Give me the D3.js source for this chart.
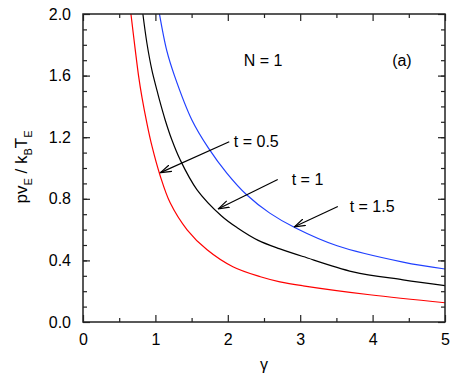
<!DOCTYPE html>
<html>
<head>
<meta charset="utf-8">
<script src="https://cdn.jsdelivr.net/npm/d3@7"></script>
<style>
body { margin: 0; background: #fff; }
text { font-family: "Liberation Sans", Arial, sans-serif; fill: #000; }
</style>
</head>
<body>
<script>
// curves: gamma vs p v_E / k_B T_E
var gammaRed = [0.662, 0.721, 0.767, 0.814, 0.883, 0.951, 1.066, 1.204, 1.438, 1.714, 2.07, 2.45, 2.72, 3.04, 3.96, 5.0],
    valRed   = [2.0, 1.77, 1.60, 1.46, 1.29, 1.145, 0.95, 0.774, 0.599, 0.469, 0.359, 0.294, 0.261, 0.235, 0.177, 0.125];
var gammaBlack = [0.827, 0.883, 0.951, 1.020, 1.056, 1.135, 1.227, 1.342, 1.573, 1.91, 2.13, 2.42, 2.72, 3.04, 3.73, 4.42, 5.0],
    valBlack   = [2.0, 1.81, 1.637, 1.507, 1.442, 1.312, 1.183, 1.053, 0.86, 0.69, 0.612, 0.53, 0.475, 0.425, 0.326, 0.274, 0.236];
var gammaBlue = [1.056, 1.158, 1.263, 1.504, 1.733, 1.986, 2.26, 2.58, 2.93, 3.51, 4.42, 5.0],
    valBlue   = [2.0, 1.76, 1.60, 1.312, 1.129, 0.967, 0.826, 0.707, 0.612, 0.495, 0.389, 0.344];
var xTicks = [0, 1, 2, 3, 4, 5],
    yTicks = [0.0, 0.4, 0.8, 1.2, 1.6, 2.0];
var labels = ["t = 0.5", "t = 1", "t = 1.5"];

var width = 457, height = 384, margin, x, y, svg, g, line, w, h;
margin = {left: 83, right: 12, top: 14, bottom: 62};
w = width - margin.left - margin.right;
h = height - margin.top - margin.bottom;

x = d3.scaleLinear().domain([0, 5]).range([0, w]);
y = d3.scaleLinear().domain([0, 2]).range([h, 0]);

svg = d3.select("body").append("svg").attr("width", width).attr("height", height);
svg.append("defs").append("clipPath").attr("id", "clip")
  .append("rect").attr("width", w).attr("height", h);
svg.select("defs").append("marker").attr("id", "arr")
  .attr("viewBox", "0 0 12 8").attr("refX", 11).attr("refY", 4)
  .attr("markerWidth", 12).attr("markerHeight", 8).attr("markerUnits", "userSpaceOnUse")
  .attr("orient", "auto")
  .append("path").attr("d", "M0,0.5 L11,4 L0,7.5").attr("fill", "none").attr("stroke", "#000").attr("stroke-width", 1.2);

g = svg.append("g").attr("transform", "translate(" + margin.left + "," + margin.top + ")");

line = d3.line().x(function (d) { return x(d[0]); }).y(function (d) { return y(d[1]); }).curve(d3.curveCatmullRom.alpha(0.5));

[[gammaRed, valRed, "#ff0000"], [gammaBlack, valBlack, "#000000"], [gammaBlue, valBlue, "#2040ff"]].forEach(function (s) {
  g.append("path").attr("clip-path", "url(#clip)")
    .attr("d", line(d3.zip(s[0], s[1])))
    .attr("fill", "none").attr("stroke", s[2]).attr("stroke-width", 1.2);
});

// axes with inward ticks on all sides
function minor(ax) { return ax.tickSizeInner(-4).tickSizeOuter(0).tickFormat(""); }
g.append("g").attr("transform", "translate(0," + h + ")").call(minor(d3.axisBottom(x).tickValues(d3.range(0.5, 5, 1))));
g.append("g").call(minor(d3.axisTop(x).tickValues(d3.range(0.5, 5, 1))));
g.append("g").call(minor(d3.axisLeft(y).tickValues(d3.range(0.1, 2, 0.1))));
g.append("g").attr("transform", "translate(" + w + ",0)").call(minor(d3.axisRight(y).tickValues(d3.range(0.1, 2, 0.1))));

g.append("g").attr("transform", "translate(0," + h + ")")
  .call(d3.axisBottom(x).tickValues(xTicks).tickSizeInner(-7).tickSizeOuter(0).tickPadding(12).tickFormat(d3.format("d")));
g.append("g")
  .call(d3.axisLeft(y).tickValues(yTicks).tickSizeInner(-7).tickSizeOuter(0).tickPadding(12).tickFormat(d3.format(".1f")));
g.append("g").call(d3.axisTop(x).tickValues(xTicks).tickSizeInner(-7).tickSizeOuter(0).tickFormat(""));
g.append("g").attr("transform", "translate(" + w + ",0)").call(d3.axisRight(y).tickValues(yTicks).tickSizeInner(-7).tickSizeOuter(0).tickFormat(""));
g.selectAll(".domain").remove();
g.selectAll(".tick line").attr("stroke", "#222").attr("stroke-width", 1.2);
g.selectAll(".tick text").attr("font-size", 16).attr("font-family", "Liberation Sans, Arial, sans-serif").attr("fill", "#000");
g.append("rect").attr("width", w).attr("height", h).attr("fill", "none").attr("stroke", "#222").attr("stroke-width", 1.5);

// annotations
g.append("text").attr("x", x(2.22)).attr("y", y(1.66)).attr("font-size", 16).text("N = 1");
g.append("text").attr("x", x(4.27)).attr("y", y(1.66)).attr("font-size", 16).text("(a)");

var ann = [[2.02, 1.17, 1.07, 0.97], [2.69, 0.925, 1.87, 0.735], [3.52, 0.75, 2.92, 0.618]];
var labelPos = [[2.0, 1.17], [2.8, 0.925], [3.6, 0.75]];
ann.forEach(function (a, i) {
  g.append("line").attr("x1", x(a[0])).attr("y1", y(a[1])).attr("x2", x(a[2])).attr("y2", y(a[3]))
    .attr("stroke", "#000").attr("stroke-width", 1.2).attr("marker-end", "url(#arr)");
  g.append("text").attr("x", x(labelPos[i][0]) + 6).attr("y", y(labelPos[i][1])).attr("dy", "0.35em")
    .attr("font-size", 16).text(labels[i]);
});

// axis titles
svg.append("text").attr("x", margin.left + x(2.5)).attr("y", 370).attr("text-anchor", "middle").attr("font-size", 16).text("γ");
var yt = svg.append("text").attr("transform", "translate(27,167) rotate(-90)").attr("text-anchor", "middle").attr("font-size", 17);
yt.append("tspan").text("pv");
yt.append("tspan").attr("font-size", 11).attr("dy", 5).text("E");
yt.append("tspan").attr("dy", -5).text(" / k");
yt.append("tspan").attr("font-size", 11).attr("dy", 5).text("B");
yt.append("tspan").attr("dy", -5).text("T");
yt.append("tspan").attr("font-size", 11).attr("dy", 5).text("E");
</script>
</body>
</html>
